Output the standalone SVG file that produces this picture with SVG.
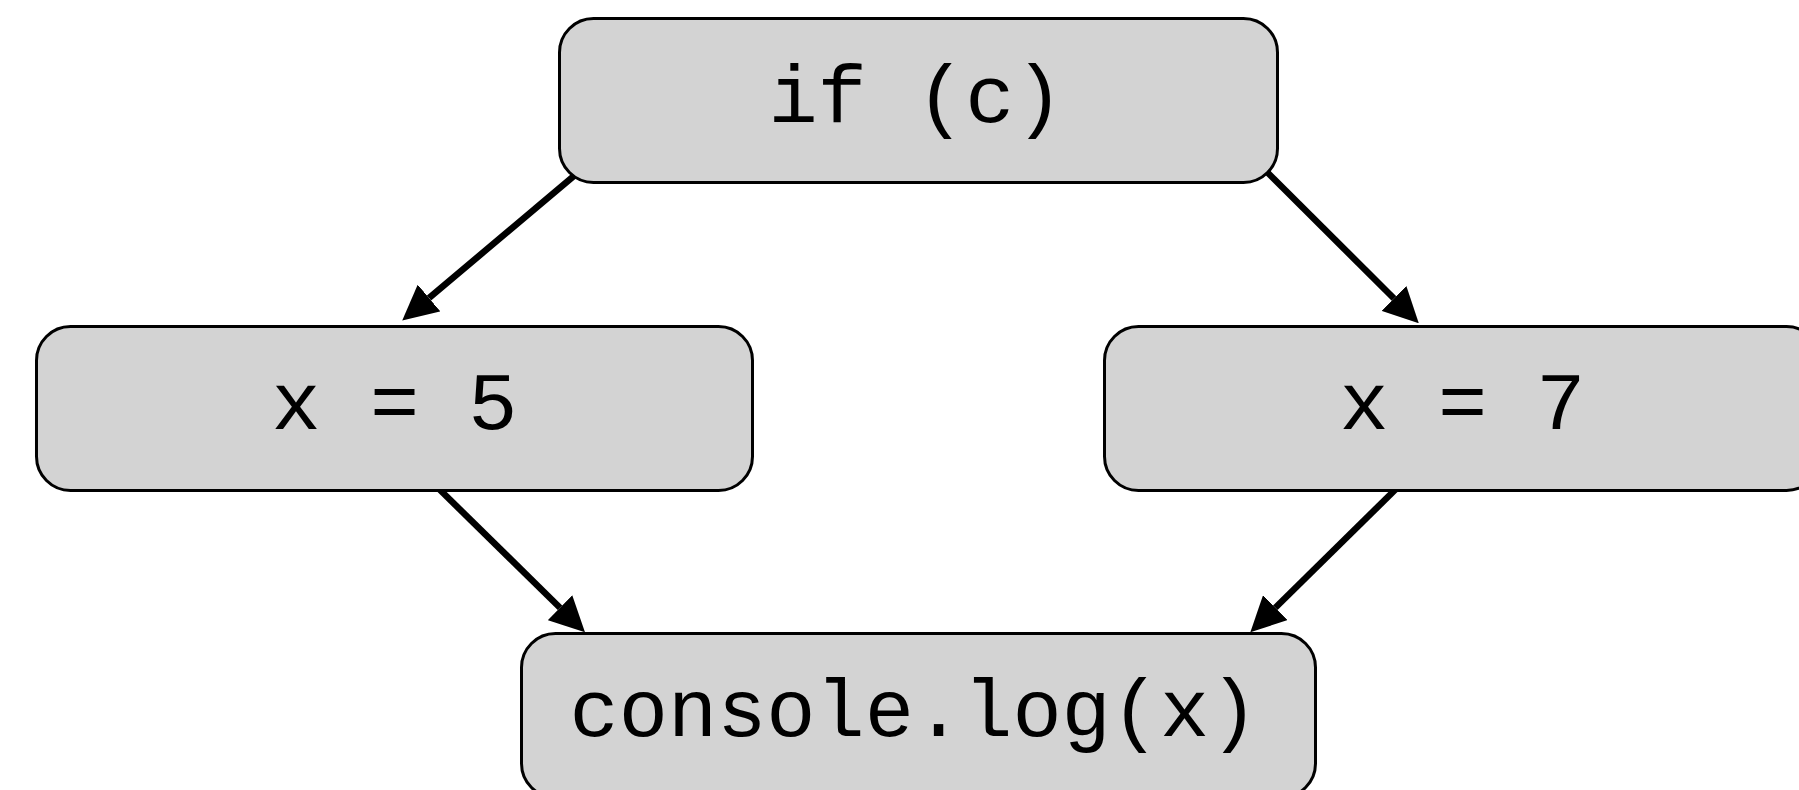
<svg xmlns="http://www.w3.org/2000/svg" width="1799" height="790" viewBox="0 0 1799 790">
  <style>
    .node rect { fill: #d3d3d3; stroke: #000; stroke-width: 3; }
    .node text { font-family: "Liberation Mono", "DejaVu Sans Mono", monospace; font-size: 82px; fill: #000; text-anchor: middle; }
    .edge { fill: none; stroke: #000; stroke-width: 6.5; marker-end: url(#head); }
  </style>
  <defs>
    <!-- filled arrowhead, drawn forward from the end of each edge line -->
    <marker id="head" markerUnits="userSpaceOnUse" viewBox="0 0 35 35" markerWidth="35" markerHeight="35" refX="0" refY="17.5" orient="auto">
      <path d="M0,0 L35,17.5 L0,35 Z" fill="#000"/>
    </marker>
  </defs>

  <g id="connectors">
    <line class="edge" x1="581" y1="170" x2="429" y2="298"/>
    <line class="edge" x1="1261" y1="166" x2="1394" y2="298.5"/>
    <line class="edge" x1="435" y1="485" x2="560" y2="607.7"/>
    <line class="edge" x1="1399" y1="486" x2="1275.3" y2="607.7"/>
  </g>

  <g id="node-if" class="node">
    <rect x="559.5" y="18.5" width="718" height="164" rx="34" ry="34"/>
    <text x="916" y="122">if (c)</text>
  </g>

  <g id="node-x5" class="node">
    <rect x="36.5" y="326.5" width="716" height="164" rx="34" ry="34"/>
    <text x="394.5" y="429">x = 5</text>
  </g>

  <g id="node-x7" class="node">
    <rect x="1104.5" y="326.5" width="716" height="164" rx="34" ry="34"/>
    <text x="1462.5" y="429">x = 7</text>
  </g>

  <g id="node-log" class="node">
    <rect x="521.5" y="633.5" width="794" height="164" rx="34" ry="34"/>
    <text x="914" y="736">console.log(x)</text>
  </g>
</svg>
